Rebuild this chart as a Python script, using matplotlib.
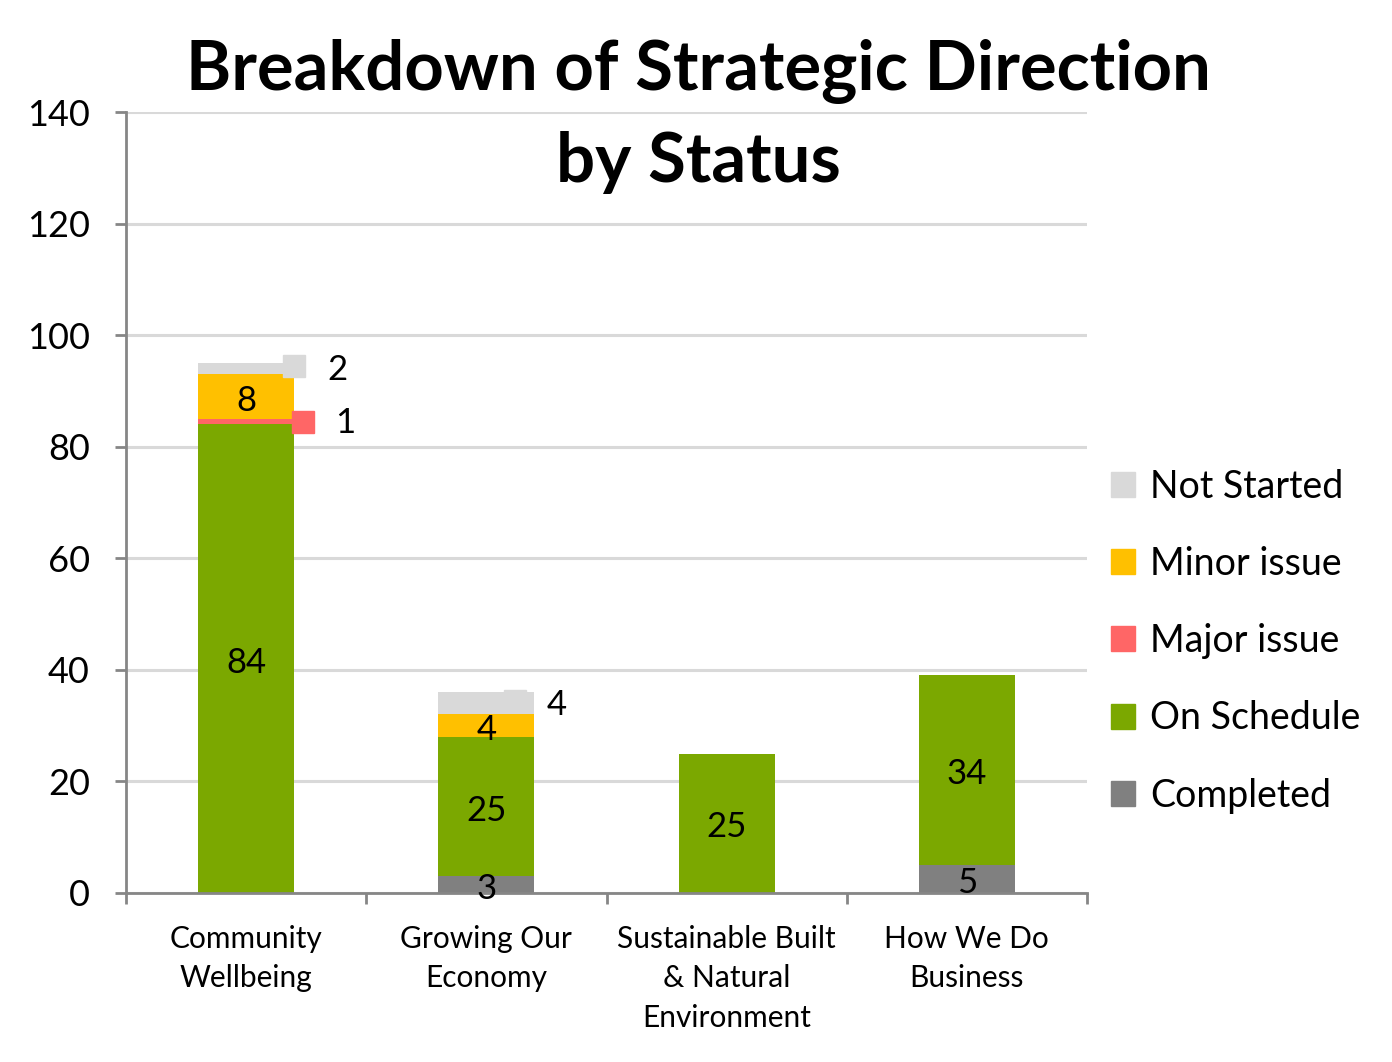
import numpy as np
import matplotlib.pyplot as plt
from matplotlib.transforms import offset_copy
from matplotlib.patches import Patch

plt.rcParams['font.family'] = ['Lato', 'DejaVu Sans']

categories = ["Community\nWellbeing", "Growing Our\nEconomy", "Sustainable Built\n& Natural\nEnvironment", "How We Do\nBusiness"]
completed = [0, 3, 0, 5]
on_schedule = [84, 25, 25, 34]
major_issue = [1, 0, 0, 0]
minor_issue = [8, 4, 0, 0]
not_started = [2, 4, 0, 0]

series_names = ["Completed", "On Schedule", "Major issue", "Minor issue", "Not Started"]
series_vals = [completed, on_schedule, major_issue, minor_issue, not_started]
colors = ["#808080", "#7BA800", "#FF6666", "#FFC000", "#D9D9D9"]

# labels that Excel pushed outside the bar (series index, category index)
outside = {(2, 0), (4, 0), (4, 1)}

fig = plt.figure(figsize=(13.92, 10.62), dpi=100)
ax = fig.add_axes([126/1392, 1-893/1062, 961/1392, 781/1062])

x = np.arange(len(categories))
w = 0.4
bottom = np.zeros(len(categories))
for si, (name, vals, c) in enumerate(zip(series_names, series_vals, colors)):
    vals = np.array(vals, dtype=float)
    ax.bar(x, vals, w, bottom=bottom, color=c, label=name, zorder=2)
    for ci, v in enumerate(vals):
        if v <= 0:
            continue
        yc = bottom[ci] + v / 2
        if (si, ci) in outside:
            xe = x[ci] + w / 2
            if si == 4 and ci == 1:
                # legend key hidden behind the bar top
                tr = offset_copy(ax.transData, fig=fig, x=-14, y=1.5, units='points')
                ax.plot(xe, yc, 's', ms=16, color=c, transform=tr, zorder=1.5)
                ax.annotate(f"{int(v)}", (xe, yc), xytext=(16, -1), textcoords='offset points',
                            ha='center', va='center', fontsize=25)
            else:
                dy = 0.5 if si == 4 else 0
                tr = offset_copy(ax.transData, fig=fig, x=6 if si == 2 else 0, y=0, units='points')
                ax.plot(xe, yc + dy, 's', ms=16, color=c, transform=tr, zorder=3, clip_on=False)
                ax.annotate(f"{int(v)}", (xe, yc), xytext=(37 if si == 2 else 31, -1),
                            textcoords='offset points', ha='center', va='center', fontsize=25)
        else:
            ax.annotate(f"{int(v)}", (x[ci], yc), xytext=(0, -3), textcoords='offset points',
                        ha='center', va='center', fontsize=25, zorder=4)
    bottom += vals

ax.set_xlim(-0.5, len(categories) - 0.5)
ax.set_ylim(0, 140)
ax.set_yticks(np.arange(0, 141, 20))
ax.yaxis.grid(True, color='#D9D9D9', lw=2.2, zorder=0)
ax.set_axisbelow(True)
for s in ['top', 'right']:
    ax.spines[s].set_visible(False)
for s in ['left', 'bottom']:
    ax.spines[s].set_color('#868686')
    ax.spines[s].set_linewidth(2)
ax.tick_params(axis='y', labelsize=26, length=8, width=2, color='#868686', pad=18)
ax.set_xticks(x)
ax.set_xticklabels(categories, fontsize=21.5, linespacing=1.5)
ax.set_xticks(np.arange(-0.5, len(categories)), minor=True)
ax.tick_params(axis='x', which='major', length=0, pad=23)
ax.tick_params(axis='x', which='minor', length=8, width=2, color='#868686')

fig.text(698/1392, 1-72/1062, "Breakdown of Strategic Direction", ha='center', va='center',
         fontsize=49.5, fontweight='bold')
fig.text(698/1392, 1-162/1062, "by Status", ha='center', va='center',
         fontsize=49.5, fontweight='bold')

handles = [Patch(color=colors[i]) for i in range(4, -1, -1)]
labels = [series_names[i] for i in range(4, -1, -1)]
fig.legend(handles, labels, loc='center left', bbox_to_anchor=(1111/1392, 1-641/1062),
           frameon=False, fontsize=27, handlelength=0.65, handleheight=0.65,
           handletextpad=0.4, labelspacing=1.1, borderpad=0, borderaxespad=0)

fig.savefig("out.png", dpi=100)
